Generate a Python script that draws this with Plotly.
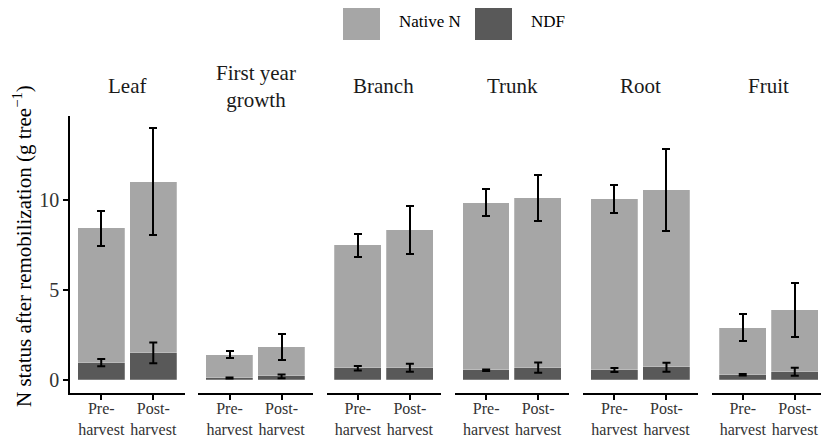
import plotly.graph_objects as go
from plotly.subplots import make_subplots

organs = ["Leaf", "First year<br>growth", "Branch", "Trunk", "Root", "Fruit"]
timing = ["Pre-<br>harvest", "Post-<br>harvest"]

# Native N segment (stacked above NDF) and its error, g tree-1
native_pre = [7.44, 1.28, 6.79, 9.27, 9.46, 2.61]
native_post = [9.46, 1.63, 7.61, 9.39, 9.81, 3.39]
native_pre_err = [0.97, 0.20, 0.65, 0.76, 0.79, 0.75]
native_post_err = [2.95, 0.74, 1.33, 1.29, 2.25, 1.49]

# N derived from fertilizer
ndf_pre = [0.98, 0.13, 0.67, 0.56, 0.57, 0.31]
ndf_post = [1.52, 0.22, 0.70, 0.70, 0.72, 0.48]
ndf_pre_err = [0.20, 0.03, 0.13, 0.04, 0.11, 0.04]
ndf_post_err = [0.57, 0.10, 0.22, 0.28, 0.25, 0.22]

y_ticks = [0, 5, 10]

LIGHT = "#a6a6a6"
DARK = "#595959"
EDGE = "rgba(255,255,255,0.3)"
FONT = "Liberation Serif"
TXT = "#333333"

# page body adds an 8px offset, so the layout is laid out in window pixels minus OFF
OFF = 8
W, H = 829, 437
ML, MR, MT, MB = 70 - OFF, 11, 116 - OFF, 52
pw = W - ML - MR
ph = H - MT - MB

fig = make_subplots(rows=1, cols=6, shared_yaxes=True,
                    horizontal_spacing=13.8 / pw)

err_style = dict(type="data", symmetric=True, color="black",
                 thickness=2, width=4)


def px_x(p):
    return (p - OFF - ML) / pw


def px_y(p):
    return (H - MB - (p - OFF)) / ph


for i, organ in enumerate(organs):
    c = i + 1
    fig.add_trace(go.Bar(
        x=timing, y=[ndf_pre[i], ndf_post[i]],
        marker=dict(color=DARK, line=dict(width=0.8, color=EDGE)),
        width=0.9, showlegend=False, name="NDF",
    ), row=1, col=c)
    fig.add_trace(go.Bar(
        x=timing, y=[native_pre[i], native_post[i]],
        marker=dict(color=LIGHT, line=dict(width=0.8, color=EDGE)),
        error_y=dict(array=[native_pre_err[i], native_post_err[i]], **err_style),
        width=0.9, showlegend=False, name="Native N",
    ), row=1, col=c)
    # NDF error bars drawn above the stacked bars
    fig.add_trace(go.Scatter(
        x=timing, y=[ndf_pre[i], ndf_post[i]], mode="markers",
        marker=dict(size=1, opacity=0),
        error_y=dict(array=[ndf_pre_err[i], ndf_post_err[i]], **err_style),
        showlegend=False, hoverinfo="skip",
    ), row=1, col=c)

    fig.update_xaxes(row=1, col=c, range=[-0.6, 1.6], showline=True,
                     linecolor="black", linewidth=1.5, ticks="outside",
                     ticklen=5, tickwidth=1.5, tickcolor="black",
                     showgrid=False, zeroline=False, automargin=False,
                     ticklabelstandoff=-5,
                     tickfont=dict(family=FONT, size=16, color=TXT))

    # facet strip label
    dom = fig.layout["xaxis" if c == 1 else f"xaxis{c}"].domain
    fig.add_annotation(x=(dom[0] + dom[1]) / 2, y=px_y(86),
                       xref="paper", yref="paper", text=organ,
                       showarrow=False, xanchor="center", yanchor="middle",
                       font=dict(family=FONT, size=21, color="#1a1a1a"))

fig.update_yaxes(range=[-0.7, 14.62], showgrid=False, zeroline=False,
                 showline=False, showticklabels=False, ticks="",
                 automargin=False)
fig.update_yaxes(row=1, col=1, showline=True, linecolor="black",
                 linewidth=1.5, ticks="outside", ticklen=5, tickwidth=1.5,
                 tickcolor="black", showticklabels=True,
                 tickvals=y_ticks, ticktext=[str(v) for v in y_ticks],
                 tickfont=dict(family=FONT, size=20, color=TXT))

# y axis title
fig.add_annotation(x=px_x(22), y=px_y(246), xref="paper", yref="paper",
                   text="N status after remobilization (g tree<sup>−1</sup>)",
                   textangle=-90, showarrow=False, xanchor="center",
                   yanchor="middle",
                   font=dict(family=FONT, size=21, color="black"))

# legend keys drawn at the top
legend_items = [("Native N", LIGHT, 343), ("NDF", DARK, 475)]
for label, col, x0 in legend_items:
    fig.add_shape(type="rect", xref="paper", yref="paper",
                  x0=px_x(x0), x1=px_x(x0 + 37), y0=px_y(40), y1=px_y(3),
                  fillcolor=col, line=dict(width=0))
    fig.add_annotation(x=px_x(x0 + 54), y=px_y(21), xref="paper", yref="paper",
                       text=label, showarrow=False, xanchor="left",
                       yanchor="middle",
                       font=dict(family=FONT, size=17, color="black"))

fig.update_layout(
    barmode="stack",
    width=W, height=H,
    margin=dict(l=ML, r=MR, t=MT, b=MB, autoexpand=False),
    plot_bgcolor="white", paper_bgcolor="white",
    bargap=0,
    showlegend=False,
)

fig.write_html("out.html")
